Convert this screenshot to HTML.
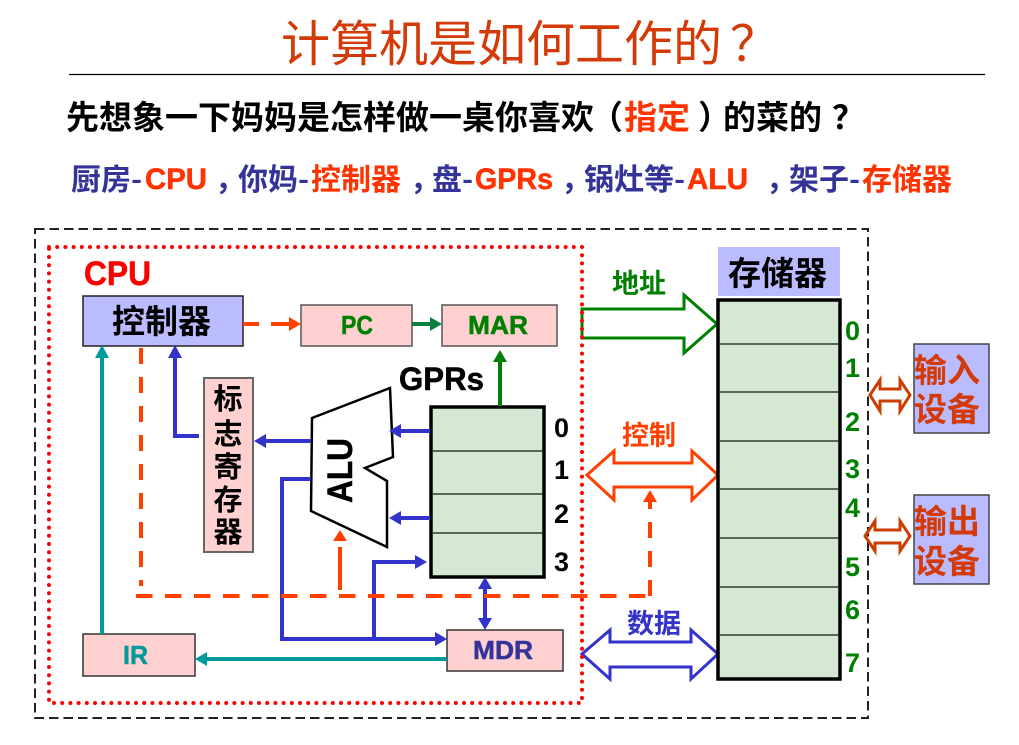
<!DOCTYPE html>
<html>
<head>
<meta charset="utf-8">
<style>
html,body{margin:0;padding:0;background:#fff;}
svg{display:block;}
text{font-family:"Liberation Sans","Noto Sans CJK SC",sans-serif;font-weight:700;}
.cjk{font-family:"Noto Sans CJK SC","Liberation Sans",sans-serif;}
.lat{stroke-width:.5;paint-order:stroke;}
</style>
</head>
<body>
<svg width="1019" height="745" viewBox="0 0 1019 745" xmlns="http://www.w3.org/2000/svg">
<rect width="1019" height="745" fill="#fff"/>

<!-- Header -->
<text class="cjk" x="281" y="61" font-size="49" style="font-weight:400" fill="#d43a08">计算机是如何工作的</text>
<text class="cjk" x="730" y="61" font-size="49" style="font-weight:400" fill="#d43a08">？</text>
<line x1="69" y1="74.5" x2="985" y2="74.5" stroke="#000" stroke-width="1.2"/>

<text class="cjk" x="66" y="129" font-size="33" fill="#000">先想象一下妈妈是怎样做一桌你喜欢</text>
<text class="cjk" x="590" y="129" font-size="33" fill="#000">（</text>
<text class="cjk" x="624" y="129" font-size="33" fill="#ff3300">指定</text>
<text class="cjk" x="698" y="129" font-size="33" fill="#000">）</text>
<text class="cjk" x="723" y="129" font-size="33" fill="#000">的菜的</text>
<text class="cjk" x="832" y="129" font-size="33" fill="#000">？</text>

<g font-size="30">
<text class="cjk" x="71" y="190" fill="#333399">厨房-</text>
<text class="lat" stroke="#ff3300" x="145" y="189" fill="#ff3300" textLength="62" lengthAdjust="spacingAndGlyphs">CPU</text>
<text class="cjk" x="215" y="190" fill="#333399">，</text>
<text class="cjk" x="238" y="190" fill="#333399">你妈-</text>
<text class="cjk" x="311" y="190" fill="#ff3300">控制器</text>
<text class="cjk" x="410" y="190" fill="#333399">，</text>
<text class="cjk" x="432" y="190" fill="#333399">盘-</text>
<text class="lat" stroke="#ff3300" x="475" y="189" fill="#ff3300" textLength="78" lengthAdjust="spacingAndGlyphs">GPRs</text>
<text class="cjk" x="561" y="190" fill="#333399">，</text>
<text class="cjk" x="584" y="190" fill="#333399">锅灶等-</text>
<text class="lat" stroke="#ff3300" x="687" y="189" fill="#ff3300" textLength="61" lengthAdjust="spacingAndGlyphs">ALU</text>
<text class="cjk" x="766" y="190" fill="#333399">，</text>
<text class="cjk" x="789" y="190" fill="#333399">架子-</text>
<text class="cjk" x="862" y="190" fill="#ff3300">存储器</text>
</g>

<!-- Big bus arrows -->
<polygon points="582,309 684,309 684,295 717,324 684,353 684,338 582,338" fill="#fff" stroke="#008000" stroke-width="3"/>
<polygon points="587,475 614,451 614,463 692,463 692,451 718,475 692,500 692,487 614,487 614,500" fill="#fff" stroke="#ff4000" stroke-width="3"/>
<polygon points="582,654 610,630 610,642 691,642 691,630 718,654 691,679 691,667 610,667 610,679" fill="#fff" stroke="#3333cc" stroke-width="3"/>

<!-- Frames -->
<rect x="35" y="229" width="833" height="489" fill="none" stroke="#222" stroke-width="2" stroke-dasharray="9.5 5"/>
<rect x="49" y="247" width="533" height="456" fill="none" stroke="#ff0000" stroke-width="4" stroke-linecap="round" stroke-dasharray="0 8.2"/>

<text class="lat" stroke="#ff0000" x="84" y="285" font-size="34" fill="#ff0000" textLength="67" lengthAdjust="spacingAndGlyphs">CPU</text>

<!-- Controller -->
<rect x="83" y="296" width="160" height="50" fill="#bbbbff" stroke="#222" stroke-width="1.5"/>
<text class="cjk" x="112" y="333" font-size="33" fill="#000">控制器</text>

<!-- PC / MAR -->
<rect x="301" y="305" width="111" height="41" fill="#ffd0d0" stroke="#555" stroke-width="1.5"/>
<text class="lat" stroke="#008000" x="341" y="334" font-size="26" fill="#008000" textLength="32" lengthAdjust="spacingAndGlyphs">PC</text>
<rect x="442" y="305" width="115" height="41" fill="#ffd0d0" stroke="#555" stroke-width="1.5"/>
<text class="lat" stroke="#008000" x="468" y="334" font-size="26" fill="#008000" textLength="60" lengthAdjust="spacingAndGlyphs">MAR</text>

<!-- GPRs -->
<text class="lat" stroke="#000" x="399" y="390" font-size="32" fill="#000" textLength="85" lengthAdjust="spacingAndGlyphs">GPRs</text>

<!-- Flags -->
<rect x="204" y="378" width="49" height="174" fill="#ffd0d0" stroke="#666" stroke-width="2"/>
<g font-size="29" fill="#000" text-anchor="middle">
<text class="cjk" x="228" y="409">标</text>
<text class="cjk" x="228" y="444">志</text>
<text class="cjk" x="228" y="477">寄</text>
<text class="cjk" x="228" y="510">存</text>
<text class="cjk" x="228" y="542">器</text>
</g>

<!-- ALU -->
<polygon points="312,418 390,388 393,457 365,468 387,481 387,547 311,511" fill="#fff" stroke="#000" stroke-width="2.5"/>
<text class="lat" stroke="#000" transform="translate(352,503) rotate(-90)" x="0" y="0" font-size="35" fill="#000" textLength="65" lengthAdjust="spacingAndGlyphs">ALU</text>

<!-- GPR stack -->
<rect x="431" y="407" width="113" height="170" fill="#d5e8d4" stroke="#000" stroke-width="3.5"/>
<g stroke="#2a402a" stroke-width="1.5">
<line x1="432" y1="451" x2="543" y2="451"/>
<line x1="432" y1="494" x2="543" y2="494"/>
<line x1="432" y1="533" x2="543" y2="533"/>
</g>
<g font-size="27" fill="#000">
<text x="554" y="437">0</text>
<text x="554" y="479">1</text>
<text x="554" y="523">2</text>
<text x="554" y="571">3</text>
</g>

<!-- MDR / IR -->
<rect x="447" y="630" width="116" height="41" fill="#ffd0d0" stroke="#333" stroke-width="1.5"/>
<text class="lat" stroke="#333399" x="473" y="659" font-size="26" fill="#333399" textLength="60" lengthAdjust="spacingAndGlyphs">MDR</text>
<rect x="83" y="634" width="112" height="42" fill="#ffd0d0" stroke="#333" stroke-width="1.5"/>
<text class="lat" stroke="#009a9a" x="123" y="664" font-size="26" fill="#009a9a" textLength="25" lengthAdjust="spacingAndGlyphs">IR</text>

<!-- Memory -->
<rect x="718" y="247" width="122" height="49" fill="#bbbbff"/>
<text class="cjk" x="728" y="285" font-size="33" fill="#000">存储器</text>
<rect x="718" y="300" width="122" height="379" fill="#d5e8d4" stroke="#000" stroke-width="3.5"/>
<g stroke="#2a402a" stroke-width="1.5">
<line x1="719" y1="344" x2="839" y2="344"/>
<line x1="719" y1="392" x2="839" y2="392"/>
<line x1="719" y1="441" x2="839" y2="441"/>
<line x1="719" y1="489" x2="839" y2="489"/>
<line x1="719" y1="538" x2="839" y2="538"/>
<line x1="719" y1="587" x2="839" y2="587"/>
<line x1="719" y1="635" x2="839" y2="635"/>
</g>
<g font-size="27" fill="#008000">
<text x="845" y="340">0</text>
<text x="845" y="377">1</text>
<text x="845" y="431">2</text>
<text x="845" y="478">3</text>
<text x="845" y="517">4</text>
<text x="845" y="576">5</text>
<text x="845" y="619">6</text>
<text x="845" y="672">7</text>
</g>

<!-- Bus labels -->
<text class="cjk" x="612" y="293" font-size="27" fill="#008000">地址</text>
<text class="cjk" x="622" y="445" font-size="27" fill="#ff4000">控制</text>
<text class="cjk" x="627" y="633" font-size="27" fill="#3333cc">数据</text>

<!-- Teal connectors -->
<g stroke="#009a9a" stroke-width="4" fill="none">
<line x1="102" y1="634" x2="102" y2="356"/>
<line x1="447" y1="659" x2="206" y2="659"/>
</g>
<polygon points="102,345 95,358 109,358" fill="#009a9a"/>
<polygon points="195,659 207,652 207,666" fill="#009a9a"/>

<!-- Blue connectors -->
<g stroke="#3333cc" stroke-width="4" fill="none">
<polyline points="199,436 175,436 175,357"/>
<line x1="311" y1="441" x2="265" y2="441"/>
<polyline points="311,479 282,479 282,639 436,639"/>
<polyline points="374,639 374,562 416,562"/>
<line x1="430" y1="431" x2="400" y2="431"/>
<line x1="430" y1="518" x2="400" y2="518"/>
<line x1="485" y1="587" x2="485" y2="620"/>
</g>
<g fill="#3333cc">
<polygon points="175,345 168,358 182,358"/>
<polygon points="254,441 266,434 266,448"/>
<polygon points="447,639 435,632 435,646"/>
<polygon points="427,562 415,555 415,569"/>
<polygon points="389,431 401,424 401,438"/>
<polygon points="389,518 401,511 401,525"/>
<polygon points="485,577 478,589 492,589"/>
<polygon points="485,630 478,618 492,618"/>
</g>

<!-- Green connectors -->
<line x1="412" y1="324" x2="431" y2="324" stroke="#0a8040" stroke-width="4"/>
<polygon points="442,324 430,317 430,331" fill="#0a8040"/>
<line x1="500" y1="406" x2="500" y2="360" stroke="#008000" stroke-width="4"/>
<polygon points="500,350 493,362 507,362" fill="#008000"/>

<!-- Orange dashed connectors -->
<g stroke="#ff4000" stroke-width="4" fill="none">
<line x1="243" y1="324" x2="259" y2="324"/>
<line x1="271" y1="324" x2="290" y2="324"/>
<line x1="141" y1="348" x2="141" y2="586" stroke-dasharray="16 13"/>
<line x1="136" y1="596" x2="652" y2="596" stroke-dasharray="16.5 12.5"/>
<line x1="650" y1="596" x2="650" y2="500" stroke-dasharray="16 13"/>
<line x1="340" y1="590" x2="340" y2="547"/>
</g>
<polygon points="301,324 289,317 289,331" fill="#ff4000"/>
<polygon points="650,490 643,502 657,502" fill="#ff4000"/>
<polygon points="340,530 333,541 347,541" fill="#ff4000"/>

<!-- IO boxes -->
<rect x="914" y="344" width="75" height="89" fill="#bbbbff" stroke="#444" stroke-width="1.5"/>
<text class="cjk" x="914" y="382" font-size="33" fill="#d43a08">输入</text>
<text class="cjk" x="914" y="421" font-size="33" fill="#d43a08">设备</text>
<rect x="914" y="495" width="75" height="89" fill="#bbbbff" stroke="#444" stroke-width="1.5"/>
<text class="cjk" x="914" y="533" font-size="33" fill="#d43a08">输出</text>
<text class="cjk" x="914" y="573" font-size="33" fill="#d43a08">设备</text>

<polygon points="870,395 880,380 880,389 900,389 900,380 910,395 900,411 900,401 880,401 880,411" fill="#fff" stroke="#cc3d00" stroke-width="3"/>
<polygon points="865,536 875,521 875,530 900,530 900,521 910,536 900,551 900,543 875,543 875,551" fill="none" stroke="#cc3d00" stroke-width="3"/>
</svg>
</body>
</html>
